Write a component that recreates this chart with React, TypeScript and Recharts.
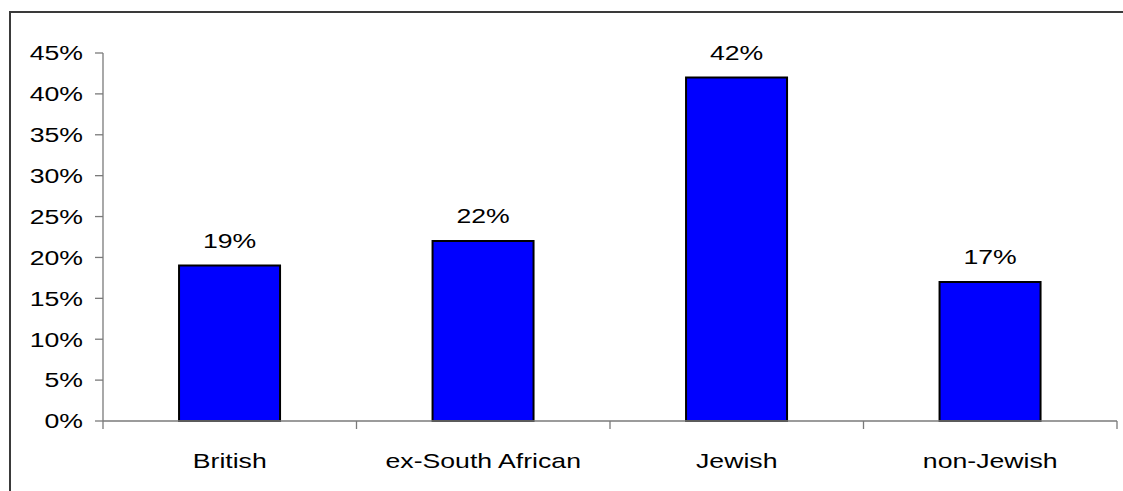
import React from 'react';
import { BarChart, Bar, XAxis, YAxis, LabelList } from 'recharts';

// groups and their share (percent)
const groups = ['British', 'ex-South African', 'Jewish', 'non-Jewish'];
const shares = [19, 22, 42, 17];
const yTicks = [0, 5, 10, 15, 20, 25, 30, 35, 40, 45];

const data = groups.map((name, i) => ({ name, share: shares[i] }));

const FONT = 'Liberation Sans, Arial, sans-serif';
const FONT_SIZE = 20.5;
const STRETCH = 1.3; // text is drawn wide
const AXIS = '#7a7a7a';

// text stretched horizontally around its anchor point
function WideText({ x, y, anchor, children }: any) {
  return (
    <g transform={`translate(${x},${y}) scale(${STRETCH},1)`}>
      <text x={0} y={0} textAnchor={anchor} fill="#000" fontSize={FONT_SIZE} fontFamily={FONT}>
        {children}
      </text>
    </g>
  );
}

// category label plus tick marks on the category boundaries
function GroupTick(props: any) {
  const { x, y, payload, index } = props;
  const half = payload?.offset || 126.75;
  const last = index === groups.length - 1;
  return (
    <g>
      <line x1={x - half} y1={y} x2={x - half} y2={y + 8} stroke={AXIS} strokeWidth={1.3} />
      {last && <line x1={x + half} y1={y} x2={x + half} y2={y + 8} stroke={AXIS} strokeWidth={1.3} />}
      <WideText x={x} y={y + 47} anchor="middle">
        {payload.value}
      </WideText>
    </g>
  );
}

function PercentTick(props: any) {
  const { x, y, payload } = props;
  return (
    <WideText x={x} y={y + 7.3} anchor="end">
      {`${payload.value}%`}
    </WideText>
  );
}

function ValueLabel(props: any) {
  const { x, y, width, value } = props;
  return (
    <WideText x={x + width / 2} y={y - 18} anchor="middle">
      {`${value}%`}
    </WideText>
  );
}

export default function App() {
  return (
    <div
      style={{
        position: 'absolute',
        left: 0,
        top: 0,
        width: 1123,
        height: 491,
        overflow: 'hidden',
        background: '#fff',
      }}
    >
      {/* outer frame */}
      <div
        style={{
          position: 'absolute',
          left: 9,
          top: 11,
          width: 1200,
          height: 600,
          border: '2px solid #3a3a3a',
        }}
      />
      <div style={{ position: 'absolute', left: 0, top: 0 }}>
        <BarChart
          width={1123}
          height={491}
          data={data}
          margin={{ top: 53, right: 6, left: 43, bottom: 0 }}
          barCategoryGap="30%"
        >
          <XAxis
            dataKey="name"
            height={70}
            interval={0}
            axisLine={{ stroke: AXIS, strokeWidth: 1.3 }}
            tickLine={false}
            tickSize={0}
            tickMargin={0}
            tick={<GroupTick />}
          />
          <YAxis
            width={60}
            domain={[0, 45]}
            ticks={yTicks}
            interval={0}
            axisLine={{ stroke: AXIS, strokeWidth: 1.3 }}
            tickLine={{ stroke: AXIS, strokeWidth: 1.3 }}
            tickSize={8}
            tickMargin={12}
            tick={<PercentTick />}
          />
          <Bar dataKey="share" fill="#0000ff" stroke="#000" strokeWidth={2} isAnimationActive={false}>
            <LabelList dataKey="share" content={<ValueLabel />} />
          </Bar>
        </BarChart>
      </div>
    </div>
  );
}
